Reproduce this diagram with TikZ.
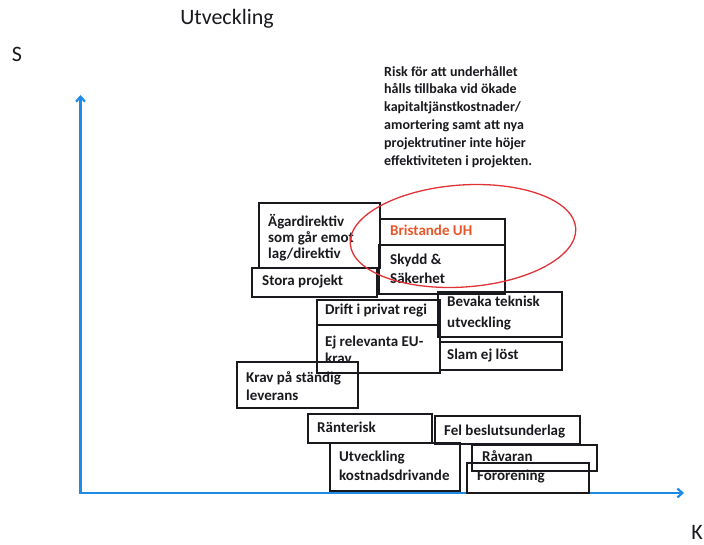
\documentclass[tikz,border=0pt]{standalone}
\usepackage{fontspec}
\setmainfont{Carlito}
\usetikzlibrary{arrows.meta}
\definecolor{axisblue}{RGB}{30,140,230}
\definecolor{ovalred}{RGB}{225,50,55}
\definecolor{uhred}{RGB}{232,86,42}
\definecolor{ink}{RGB}{25,25,30}
\tikzset{
  boxline/.style={draw=ink, line width=1.8pt},
  lbl/.style={anchor=base west, inner sep=0pt, text=ink, font=\fontsize{15}{17}\selectfont\bfseries},
  risk/.style={anchor=base west, inner sep=0pt, text=ink, font=\fontsize{14}{17}\selectfont\bfseries},
  axisline/.style={draw=axisblue, line width=2.2pt},
  ovalline/.style={draw=ovalred, line width=1.3pt},
  big/.style={inner sep=0pt, text=ink, font=\fontsize{22}{26}\selectfont}
}
\begin{document}
\begin{tikzpicture}[x=1pt,y=-1pt]
\useasboundingbox (0,0) rectangle (704,545);
% titles
\node[big] (title) at (227,19) {Utveckling};
\node[big] (S) at (17,54) {S};
\node[big] (K) at (697,532) {K};
% axes
\coordinate (O) at (80.5,493);
\coordinate (ytop) at (80.5,95);
\coordinate (xend) at (684,493);
\draw[axisline, {Straight Barb[length=5pt,width=9pt]}-{Straight Barb[length=5pt,width=9pt]}] (ytop) -- (O) -- (xend);
% risk text
\node[risk] (r1) at (384,77) {Risk för att underhållet};
\node[risk] (r2) at (384,94) {hålls tillbaka vid ökade};
\node[risk] (r3) at (384,112) {kapitaltjänstkostnader/};
\node[risk] (r4) at (384,130) {amortering samt att nya};
\node[risk] (r5) at (384,148) {projektrutiner inte höjer};
\node[risk] (r6) at (384,166) {effektiviteten i projekten.};
% boxes
\draw[boxline] (259,203) rectangle (380,268);
\node[lbl] (a1) at (268,227) {Ägardirektiv};
\node[lbl] (a2) at (268,243) {som går emot};
\node[lbl] (a3) at (268,259) {lag/direktiv};

\draw[boxline] (380,219) rectangle (505,245);
\node[lbl, text=uhred] (b1) at (390,236) {Bristande UH};

\draw[boxline] (379,245) rectangle (505,294);
\node[lbl] (c1) at (390,265) {Skydd \&};
\node[lbl] (c2) at (390,284) {Säkerhet};

\draw[boxline] (252,268) rectangle (377,297);
\node[lbl] (d1) at (262,286) {Stora projekt};

\draw[boxline] (317,300) rectangle (440,325);
\node[lbl] (e1) at (325,315) {Drift i privat regi};

\draw[boxline] (438,292) rectangle (562,337);
\node[lbl] (f1) at (447,307) {Bevaka teknisk};
\node[lbl] (f2) at (447,327) {utveckling};

\draw[boxline] (317,325) rectangle (440,373);
\node[lbl] (g1) at (325,346) {Ej relevanta EU-};
\node[lbl] (g2) at (325,363) {krav};

\draw[boxline] (440,342) rectangle (562,370);
\node[lbl] (h1) at (447,359) {Slam ej löst};

\draw[boxline] (237,362) rectangle (358,408);
\node[lbl] (i1) at (246,382) {Krav på ständig};
\node[lbl] (i2) at (246,400) {leverans};

\draw[boxline] (308,414) rectangle (432,443);
\node[lbl] (j1) at (317,432) {Ränterisk};

\draw[boxline] (435,416) rectangle (580,444);
\node[lbl] (k1) at (444,435) {Fel beslutsunderlag};

\draw[boxline] (330,443) rectangle (460,491);
\node[lbl] (l1) at (339,461) {Utveckling};
\node[lbl] (l2) at (339,480) {kostnadsdrivande};

\draw[boxline] (472,445) rectangle (597,471);
\node[lbl] (m1) at (482,461) {Råvaran};

\draw[boxline] (467,463) rectangle (589,493);
\node[lbl] (n1) at (477,480) {Förorening};
% oval
\draw[ovalline] (463,236) ellipse [x radius=113, y radius=51, rotate=4];
\end{tikzpicture}
\end{document}
